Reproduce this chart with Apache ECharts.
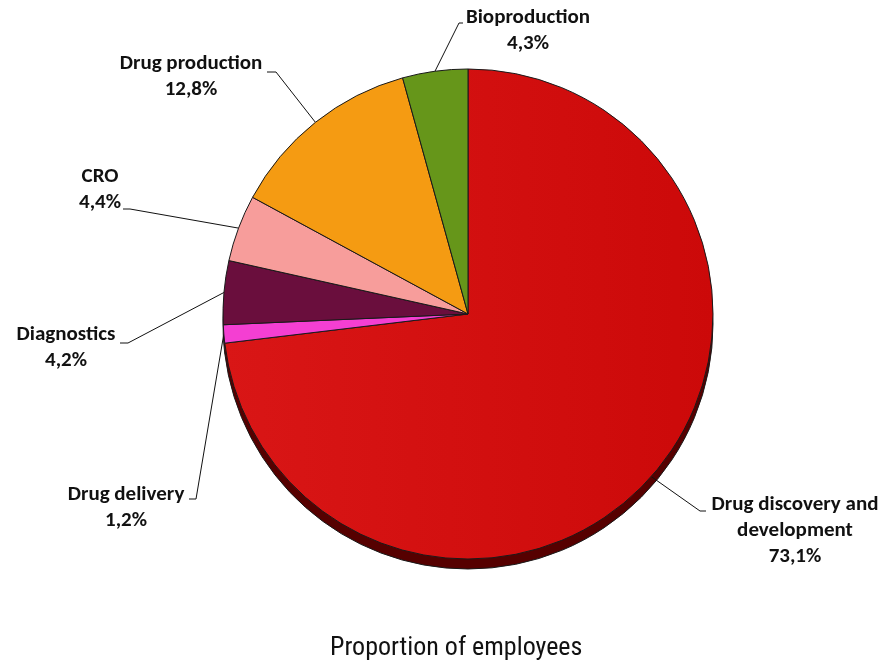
<!DOCTYPE html>
<html>
<head>
<meta charset="utf-8">
<script src="https://cdn.jsdelivr.net/npm/echarts@6/dist/echarts.min.js"></script>
<style>
  html, body { margin: 0; padding: 0; background: #ffffff; }
  #chart { width: 883px; height: 663px; }
</style>
</head>
<body>
<div id="chart"></div>
<script>
// Sectors, listed clockwise from 12 o'clock
const categories = [
  'Drug discovery and\ndevelopment',
  'Drug delivery',
  'Diagnostics',
  'CRO',
  'Drug production',
  'Bioproduction'
];
const shares = [73.1, 1.2, 4.2, 4.4, 12.8, 4.3];
const chartTitle = 'Proportion of employees';

const sliceColors = ['#d31010', '#f43fd2', '#6a0e3d', '#f79d9b', '#f59b12', '#66961a'];
const rimColor = '#560000';

// Where each label block sits (centre of block) and where its leader bends
const labelSpots = [
  { x: 795, y: 531, bend: [700, 511], end: [706, 511] },
  { x: 126, y: 508, bend: [196, 499], end: [189, 499] },
  { x: 66,  y: 348, bend: [128, 343], end: [120, 343] },
  { x: 100, y: 190, bend: [130, 209], end: [123, 209] },
  { x: 191, y: 77,  bend: [276, 72],  end: [267, 72] },
  { x: 528, y: 31,  bend: [459, 23],  end: [463, 23] }
];

const fmt = v => v.toFixed(1).replace('.', ',') + '%';

const chart = echarts.init(document.getElementById('chart'), null, { renderer: 'canvas' });

const faceData = categories.map((name, i) => ({
  name: name,
  value: shares[i],
  itemStyle: i === 0 ? {
    color: {
      type: 'linear', x: 0, y: 0, x2: 1, y2: 0,
      colorStops: [
        { offset: 0, color: '#d91616' },
        { offset: 1, color: '#cc0909' }
      ]
    }
  } : { color: sliceColors[i] }
}));

// Same slices, dropped a little lower, giving the dark edge under the face
const rimData = categories.map((name, i) => ({
  name: name,
  value: shares[i],
  itemStyle: { color: rimColor }
}));

chart.setOption({
  animation: false,
  backgroundColor: '#ffffff',
  title: {
    text: chartTitle,
    left: 325,
    top: 630,
    textStyle: {
      fontFamily: '"Liberation Sans Narrow", "Arial Narrow", "Roboto Condensed", sans-serif',
      fontWeight: 'normal',
      fontSize: 26,
      color: '#111111'
    }
  },
  series: [
    {
      type: 'pie',
      z: 1,
      silent: true,
      center: [468, 324],
      radius: [0, 245],
      startAngle: 90,
      clockwise: true,
      data: rimData,
      itemStyle: { borderColor: '#1a1a1a', borderWidth: 1 },
      label: { show: false },
      labelLine: { show: false }
    },
    {
      type: 'pie',
      z: 2,
      center: [468, 314],
      radius: [0, 245],
      startAngle: 90,
      clockwise: true,
      avoidLabelOverlap: false,
      data: faceData,
      itemStyle: {
        borderColor: '#1a1a1a',
        borderWidth: 1
      },
      label: {
        show: true,
        position: 'outside',
        formatter: p => p.name + '\n' + fmt(p.value),
        fontFamily: 'Carlito, Lato, "Open Sans", sans-serif',
        fontWeight: 'bold',
        fontSize: 21,
        lineHeight: 26,
        color: '#111111',
        align: 'center'
      },
      labelLine: {
        show: true,
        lineStyle: { color: '#111111', width: 1 }
      },
      labelLayout: function (params) {
        const s = labelSpots[params.dataIndex];
        const start = params.labelLinePoints ? params.labelLinePoints[0] : s.bend;
        return {
          x: s.x,
          y: s.y,
          align: 'center',
          verticalAlign: 'middle',
          labelLinePoints: [start, s.bend, s.end]
        };
      }
    }
  ]
});
</script>
</body>
</html>
